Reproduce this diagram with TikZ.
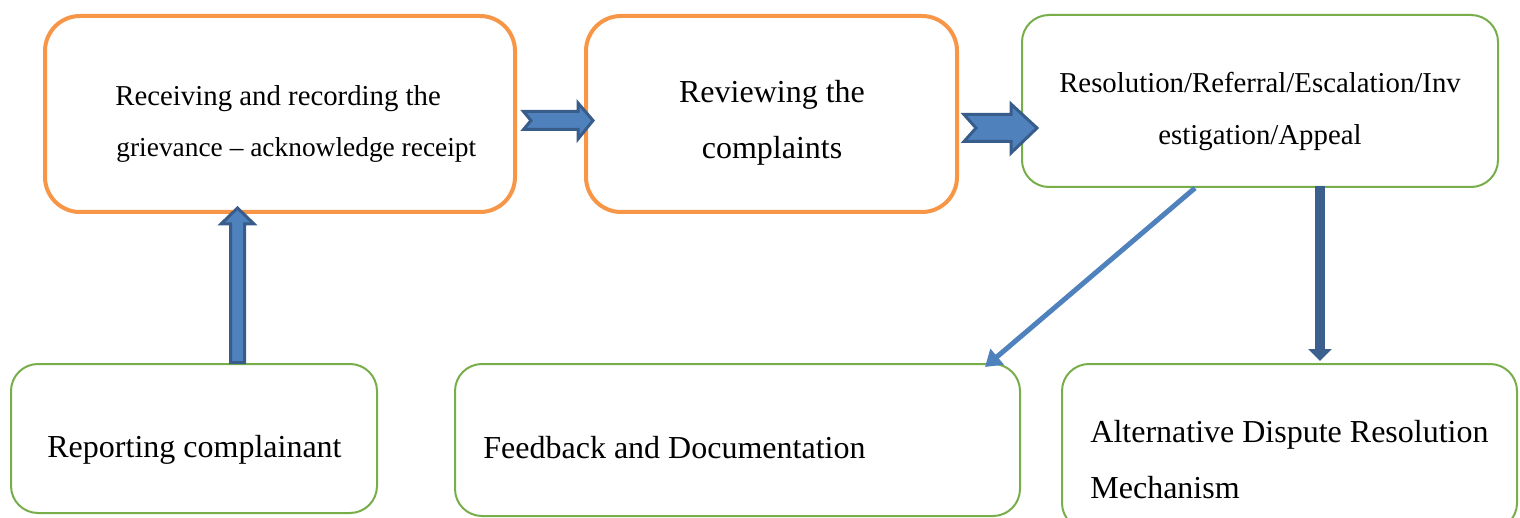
\documentclass[tikz,border=0pt]{standalone}
\usepackage{fontspec}
\setmainfont{Liberation Serif}
\usetikzlibrary{arrows.meta,calc}
\definecolor{orangeB}{HTML}{F79646}
\definecolor{greenB}{HTML}{77AE4A}
\definecolor{blockfill}{HTML}{4F81BD}
\definecolor{blockline}{HTML}{385D8A}
\definecolor{darkarrow}{HTML}{3B5F8E}
\begin{document}
\begin{tikzpicture}[x=0.5pt,y=-0.5pt,
  obox/.style={draw=orangeB, line width=2pt, rounded corners=17.5pt, inner sep=0pt},
  gbox/.style={draw=greenB, line width=1pt, rounded corners=13.5pt, inner sep=0pt},
  bigtxt/.style={inner sep=0pt, font=\fontsize{16}{19}\selectfont},
  smalltxt/.style={inner sep=0pt, font=\fontsize{14.4}{17}\selectfont},
  barrow/.style={fill=blockfill, draw=blockline, line width=1.5pt, line join=miter},
  thinarrow/.style={draw=blockfill, line width=2.5pt, -{Triangle[length=8pt,width=10pt]}},
  thickarrow/.style={draw=darkarrow, line width=5pt, -{Triangle[length=6pt,width=11.5pt]}}]
\useasboundingbox (0,0) rectangle (1520,518);
\clip (0,0) rectangle (1520,518);
% boxes
\node[obox, minimum width=235pt, minimum height=98pt] (A) at (280,114) {};
\node[obox, minimum width=185.5pt, minimum height=98pt] (B) at (771.5,114) {};
\node[gbox, minimum width=238pt, minimum height=86pt] (C) at (1260,101) {};
\node[gbox, minimum width=183pt, minimum height=74.5pt] (D) at (194,438.5) {};
\node[gbox, minimum width=282.5pt, minimum height=76pt] (E) at (737.5,440) {};
\node[gbox, minimum width=227.5pt, minimum height=83pt] (F) at (1289.5,447) {};
% texts
\node[smalltxt, anchor=base west] (tA1) at (115,106) {Receiving and recording the};
\node[smalltxt, anchor=base west, font=\fontsize{13.7}{17}\selectfont] (tA2) at (116,157) {grievance – acknowledge receipt};
\node[bigtxt, anchor=base] (tB1) at (772,103) {Reviewing the};
\node[bigtxt, anchor=base] (tB2) at (772,159) {complaints};
\node[smalltxt, anchor=base] (tC1) at (1260,93) {Resolution/Referral/Escalation/Inv};
\node[smalltxt, anchor=base] (tC2) at (1260,145) {estigation/Appeal};
\node[bigtxt, anchor=base west] (tD) at (47,457) {Reporting complainant};
\node[bigtxt, anchor=base west] (tE) at (483,458) {Feedback and Documentation};
\node[bigtxt, anchor=base west] (tF1) at (1090,442) {Alternative Dispute Resolution};
\node[bigtxt, anchor=base west] (tF2) at (1090,498) {Mechanism};
% block arrows
\draw[barrow] ($(A.east)+(6.5,-2.5)$) -- ++(54.5,0) -- ++(0,-8.5) -- ++(15,17.5)
  -- ++(-15,18.5) -- ++(0,-9.5) -- ++(-54.5,0) -- ++(7.5,-9) -- cycle;
\draw[barrow] ($(B.east)+(5,0.5)$) -- ++(47,0) -- ++(0,-10.5) -- ++(26,24)
  -- ++(-26,25) -- ++(0,-11.5) -- ++(-47,0) -- ++(12,-13.5) -- cycle;
\draw[barrow] ($(D.north)+(36.5,-0.5)$) -- ++(0,-138.5) -- ++(-9.5,0) -- ++(16.5,-16)
  -- ++(16.5,16) -- ++(-9.5,0) -- ++(0,138.5) -- cycle;
% line arrows
\draw[thinarrow] ($(C.south)+(-65,0)$) -- ($(E.north)+(247.5,4)$);
\draw[thickarrow] ($(C.south)+(60,-2)$) -- ($(F.north)+(30.5,-2)$);
\end{tikzpicture}
\end{document}
